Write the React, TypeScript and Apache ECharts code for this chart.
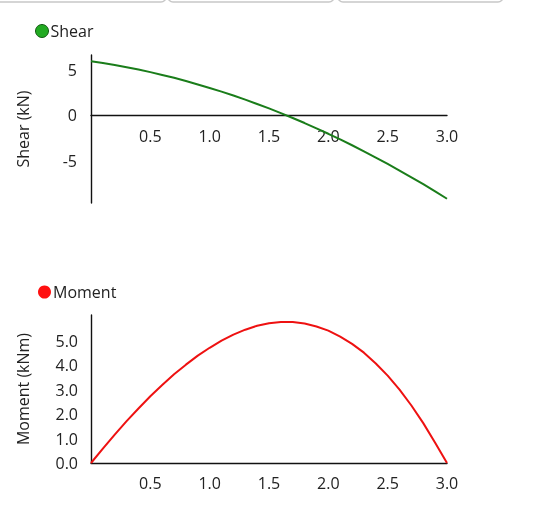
import React, { useEffect, useRef } from "react";
import * as echarts from "echarts";

const X_VALUES = [0, 0.1, 0.2, 0.3, 0.4, 0.5, 0.6, 0.7, 0.8, 0.9, 1.0, 1.1, 1.2, 1.3, 1.4, 1.5, 1.6, 1.7, 1.8, 1.9, 2.0, 2.1, 2.2, 2.3, 2.4, 2.5, 2.6, 2.7, 2.8, 2.9, 3.0];
const SHEAR = [6.02, 5.82, 5.6, 5.35, 5.09, 4.8, 4.49, 4.17, 3.82, 3.44, 3.05, 2.64, 2.21, 1.75, 1.27, 0.78, 0.26, -0.28, -0.84, -1.43, -2.03, -2.66, -3.3, -3.97, -4.66, -5.37, -6.1, -6.85, -7.62, -8.41, -9.23];
const MOMENT = [0, 0.59, 1.16, 1.71, 2.23, 2.73, 3.19, 3.63, 4.02, 4.39, 4.71, 5.0, 5.25, 5.45, 5.61, 5.71, 5.76, 5.76, 5.7, 5.58, 5.41, 5.17, 4.87, 4.51, 4.07, 3.57, 3.0, 2.35, 1.63, 0.83, 0];
const X_TICKS = [0.5, 1, 1.5, 2, 2.5, 3];
const SHEAR_TICKS = [-5, 0, 5];
const MOMENT_TICKS = [0, 1, 2, 3, 4, 5];

const FONT = "Open Sans";
const SHEAR_MIN = -9.7;
const SHEAR_MAX = 6.7;
const GRID_H = 148;

export default function App() {
  const ref = useRef<HTMLDivElement>(null);
  useEffect(() => {
    if (!ref.current) return;
    const chart = echarts.init(ref.current, null, { renderer: "svg" });
    const shearData = X_VALUES.map((x, i) => [x, SHEAR[i]]);
    const momentData = X_VALUES.map((x, i) => [x, MOMENT[i]]);
    const zeroOffset = -(GRID_H * (-SHEAR_MIN)) / (SHEAR_MAX - SHEAR_MIN);
    const xAxisCommon = (gridIndex: number, margin: number, offset: number) => ({
      type: "value",
      gridIndex,
      min: 0,
      max: 3,
      position: "bottom",
      offset,
      axisLine: { show: true, onZero: false, lineStyle: { color: "#111", width: 1.4 } },
      axisTick: { show: false },
      splitLine: { show: false },
      axisLabel: {
        customValues: X_TICKS,
        formatter: (v: number) => v.toFixed(1),
        fontFamily: FONT,
        fontSize: 16,
        color: "#222",
        margin,
      },
    });
    chart.setOption({
      animation: false,
      textStyle: { fontFamily: FONT },
      graphic: [
        { type: "rect", shape: { x: -10, y: -40, width: 176, height: 42, r: 5 }, style: { fill: "none", stroke: "#c8c8c8", lineWidth: 1.5 } },
        { type: "rect", shape: { x: 168, y: -40, width: 166, height: 42, r: 5 }, style: { fill: "none", stroke: "#c8c8c8", lineWidth: 1.5 } },
        { type: "rect", shape: { x: 338, y: -40, width: 165, height: 42, r: 5 }, style: { fill: "none", stroke: "#c8c8c8", lineWidth: 1.5 } },
      ],
      legend: [
        {
          data: ["Shear"],
          left: 35,
          top: 23,
          padding: 0,
          icon: "circle",
          itemWidth: 13,
          itemHeight: 13,
          itemStyle: { borderColor: "#145a14", borderWidth: 1 },
          textStyle: { fontFamily: FONT, fontSize: 16, color: "#222", padding: [0, 0, 0, -3] },
        },
        {
          data: ["Moment"],
          left: 38,
          top: 284,
          padding: 0,
          icon: "circle",
          itemWidth: 13,
          itemHeight: 13,
          textStyle: { fontFamily: FONT, fontSize: 16, color: "#222", padding: [0, 0, 0, -3] },
        },
      ],
      grid: [
        { left: 91, top: 55, width: 356, height: GRID_H },
        { left: 91, top: 315, width: 356, height: GRID_H },
      ],
      xAxis: [xAxisCommon(0, 13, zeroOffset), xAxisCommon(1, 12, 0)],
      yAxis: [
        {
          type: "value",
          gridIndex: 0,
          min: SHEAR_MIN,
          max: SHEAR_MAX,
          name: "Shear (kN)",
          nameLocation: "middle",
          nameGap: 60,
          nameTextStyle: { fontFamily: FONT, fontSize: 16, color: "#222" },
          axisLine: { show: true, onZero: false, lineStyle: { color: "#111", width: 1.4 } },
          axisTick: { show: false },
          splitLine: { show: false },
          axisLabel: { customValues: SHEAR_TICKS, fontFamily: FONT, fontSize: 16, color: "#222", margin: 14 },
        },
        {
          type: "value",
          gridIndex: 1,
          min: 0,
          max: 6.05,
          name: "Moment (kNm)",
          nameLocation: "middle",
          nameGap: 60,
          nameTextStyle: { fontFamily: FONT, fontSize: 16, color: "#222" },
          axisLine: { show: true, onZero: false, lineStyle: { color: "#111", width: 1.4 } },
          axisTick: { show: false },
          splitLine: { show: false },
          axisLabel: {
            customValues: MOMENT_TICKS,
            formatter: (v: number) => v.toFixed(1),
            fontFamily: FONT,
            fontSize: 16,
            color: "#222",
            margin: 13,
          },
        },
      ],
      series: [
        {
          name: "Shear",
          type: "line",
          xAxisIndex: 0,
          yAxisIndex: 0,
          data: shearData,
          showSymbol: false,
          smooth: false,
          itemStyle: { color: "#22aa22" },
          lineStyle: { color: "#1a7d1a", width: 2 },
        },
        {
          name: "Moment",
          type: "line",
          xAxisIndex: 1,
          yAxisIndex: 1,
          data: momentData,
          showSymbol: false,
          smooth: false,
          itemStyle: { color: "#ff1010" },
          lineStyle: { color: "#ee1111", width: 2 },
        },
      ],
    });
    return () => chart.dispose();
  }, []);
  return <div ref={ref} style={{ position: "fixed", left: 0, top: 0, width: 560, height: 512 }} />;
}
